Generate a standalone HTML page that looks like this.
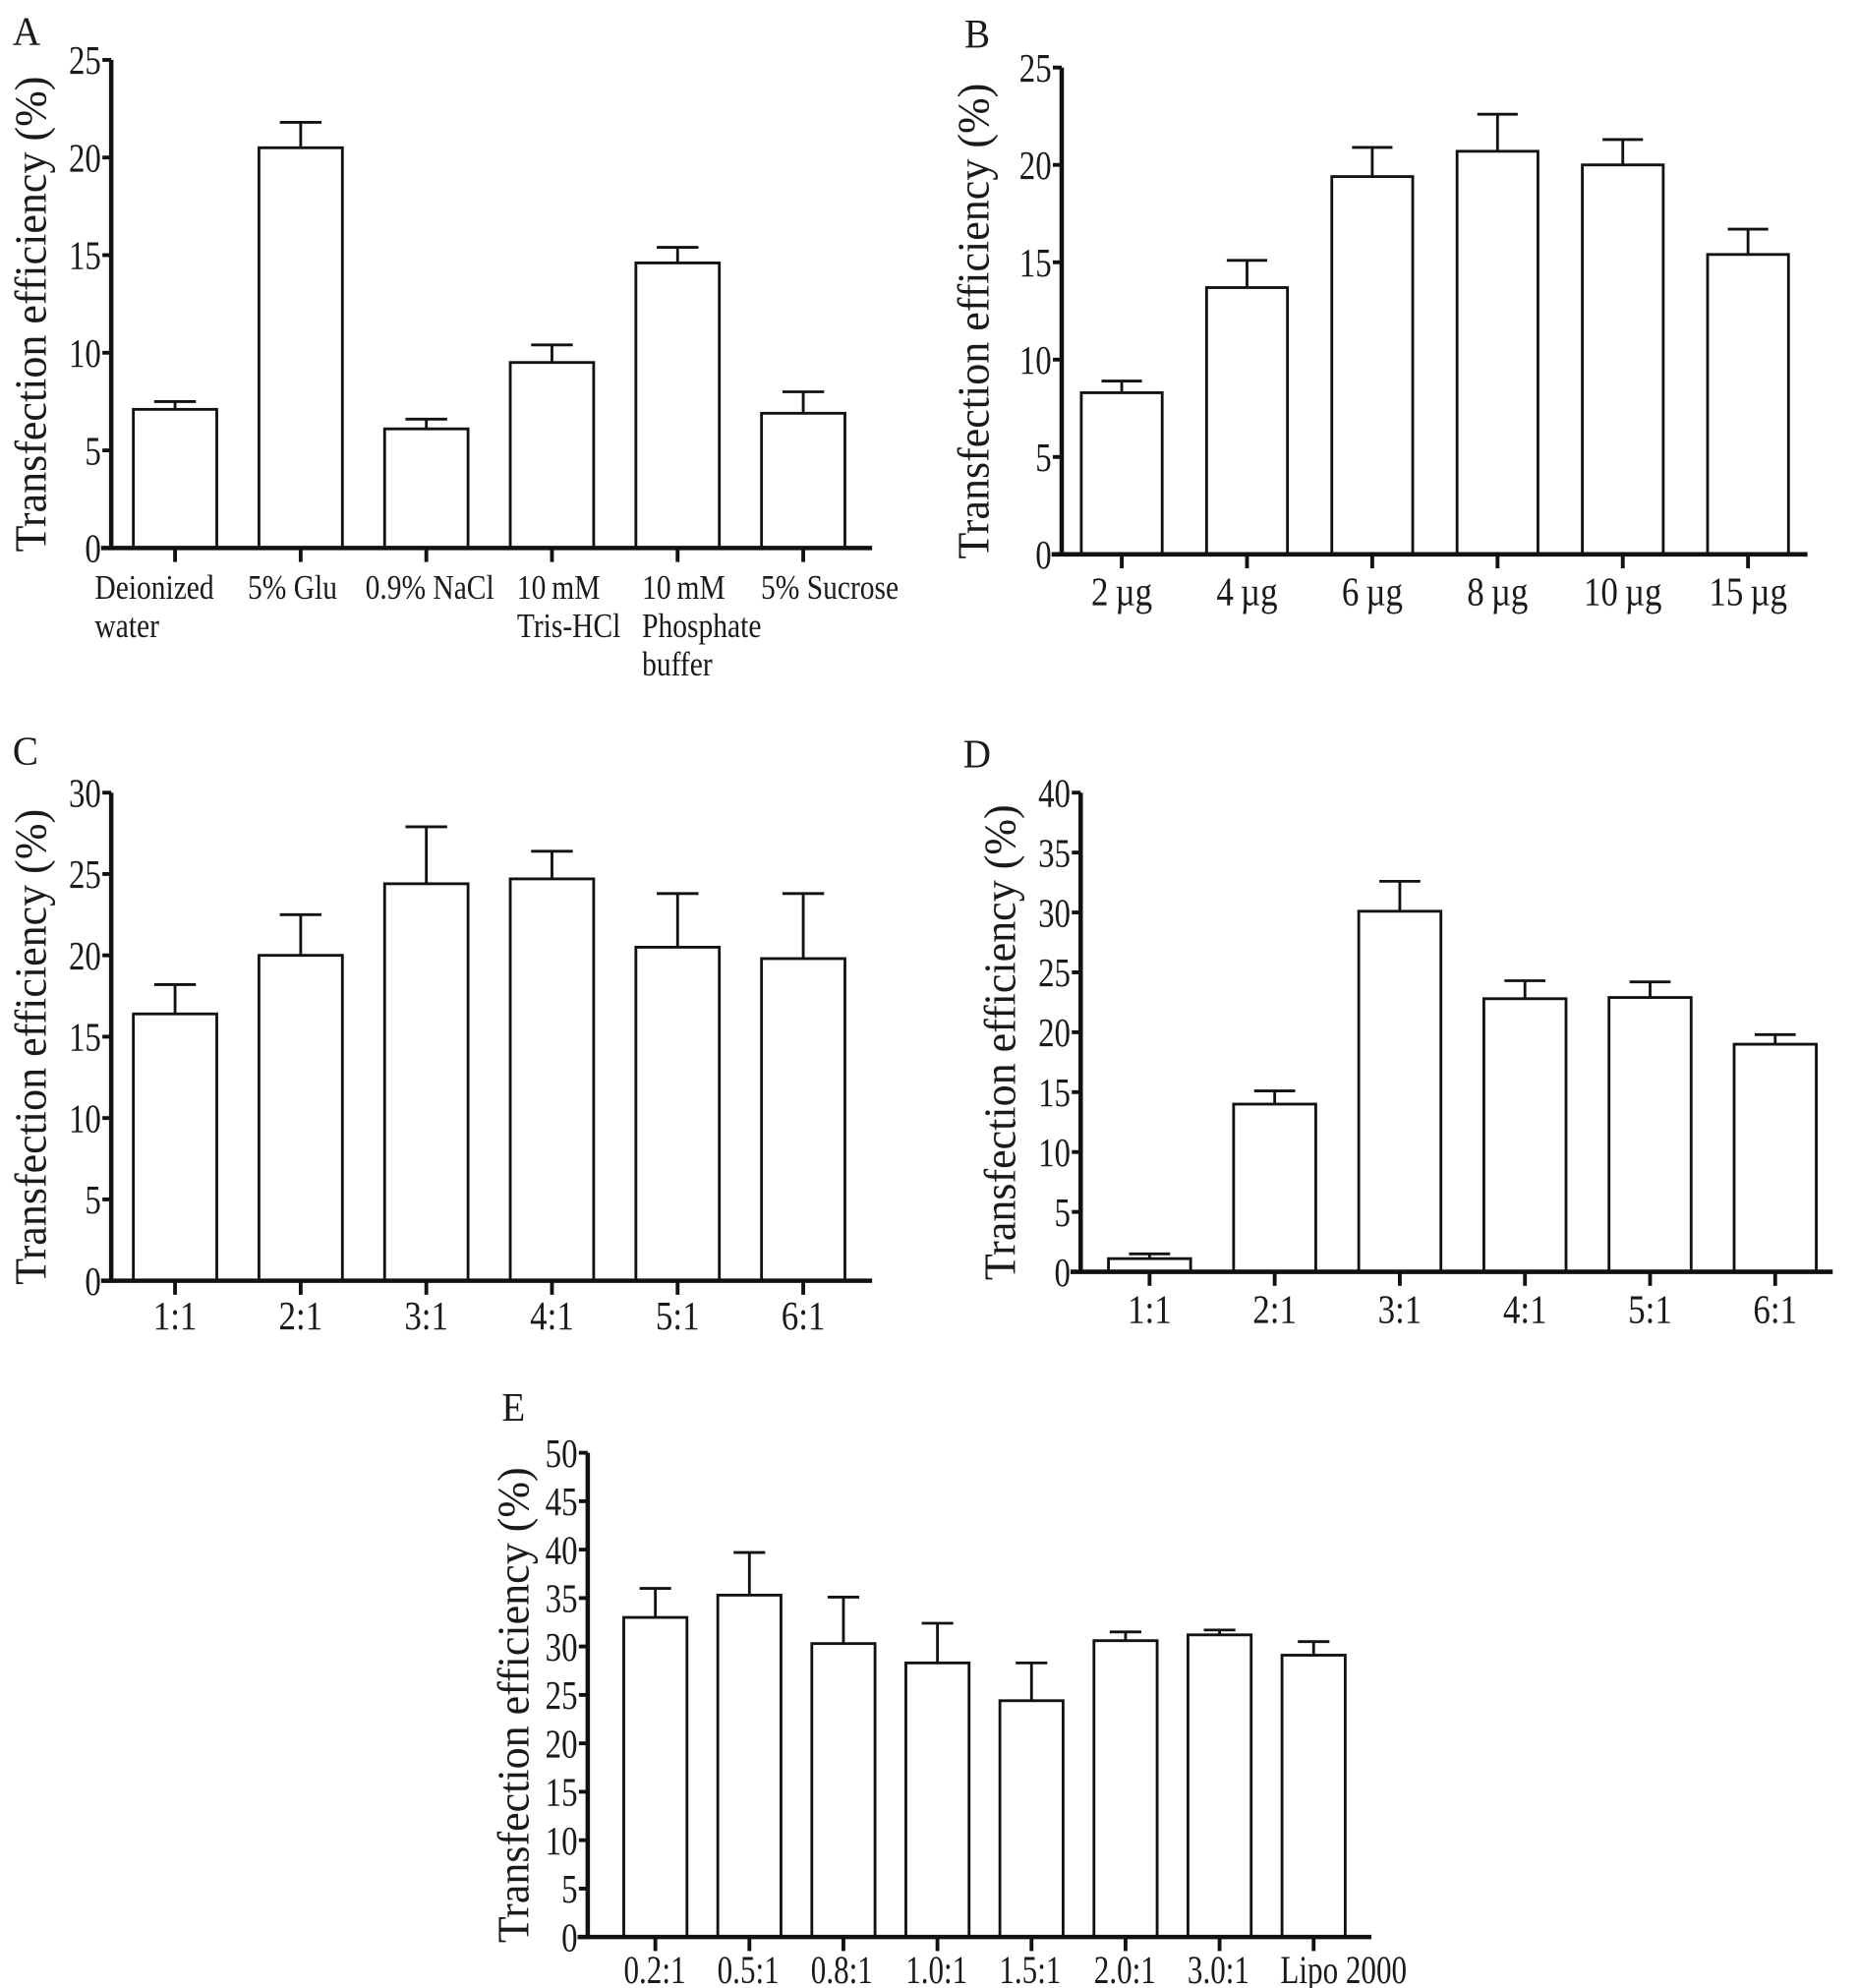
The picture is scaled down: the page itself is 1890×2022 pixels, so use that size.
<!DOCTYPE html>
<html><head><meta charset="utf-8"><style>
html,body{margin:0;padding:0;background:#fff;}
svg{display:block;}
text{font-family:"Liberation Serif",serif;fill:#1a1a1a;}
</style></head><body>
<svg id="fig" width="1890" height="2022" viewBox="0 0 1470 1560" preserveAspectRatio="none" xmlns="http://www.w3.org/2000/svg"></svg>
<script>
// Panel A
const catsA = [["Deionized","water"],["5% Glu"],["0.9% NaCl"],["10\u2009mM","Tris-HCl"],["10\u2009mM","Phosphate","buffer"],["5%  Sucrose"]];
const valsA = [7.1,20.5,6.1,9.5,14.6,6.9];
const errA = [7.5,21.8,6.6,10.4,15.4,8.0];
const ticksA = [0,5,10,15,20,25];
// Panel B
const catsB = [["2\u2009\u00b5g"],["4\u2009\u00b5g"],["6\u2009\u00b5g"],["8\u2009\u00b5g"],["10\u2009\u00b5g"],["15\u2009\u00b5g"]];
const valsB = [8.3,13.7,19.4,20.7,20.0,15.4];
const errB = [8.9,15.1,20.9,22.6,21.3,16.7];
const ticksB = [0,5,10,15,20,25];
// Panel C
const catsC = [["1:1"],["2:1"],["3:1"],["4:1"],["5:1"],["6:1"]];
const valsC = [16.4,20.0,24.4,24.7,20.5,19.8];
const errC = [18.2,22.5,27.9,26.4,23.8,23.8];
const ticksC = [0,5,10,15,20,25,30];
// Panel D
const catsD = [["1:1"],["2:1"],["3:1"],["4:1"],["5:1"],["6:1"]];
const valsD = [1.1,14.0,30.1,22.8,22.9,19.0];
const errD = [1.5,15.1,32.6,24.3,24.2,19.8];
const ticksD = [0,5,10,15,20,25,30,35,40];
// Panel E
const catsE = [["0.2:1"],["0.5:1"],["0.8:1"],["1.0:1"],["1.5:1"],["2.0:1"],["3.0:1"],["Lipo 2000"]];
const valsE = [33.0,35.3,30.3,28.3,24.4,30.6,31.2,29.1];
const errE = [36.0,39.7,35.1,32.4,28.3,31.5,31.7,30.5];
const ticksE = [0,5,10,15,20,25,30,35,40,45,50];

const NS = "http://www.w3.org/2000/svg";
const svg = document.getElementById("fig");
function mk(tag, attrs, parent){
  const e = document.createElementNS(NS, tag);
  for (const k in attrs) e.setAttribute(k, attrs[k]);
  (parent||svg).appendChild(e);
  return e;
}
function txt(parent, x, y, s, size, anchor, sx){
  const t = mk("text", {transform:`translate(${x},${y}) scale(${sx||0.85},1)`, "font-size":size, "text-anchor":anchor||"middle"}, parent);
  t.textContent = s;
  return t;
}
function panel(id, letter, lx, ly, cfg, cats, vals, errs, ticks){
  const g = mk("g", {});
  
  
  const ymax = ticks[ticks.length-1];
  const yS = v => cfg.y0 - (v/ymax)*(cfg.y0-cfg.yTop);
  const xC = i => cfg.firstC + i*cfg.step;
  const lt = txt(g, lx, ly, letter, 32, "start", 0.95);
  
  
  const yt = mk("text", {transform:`translate(${cfg.titleX},${(cfg.y0+cfg.yTop)/2+8}) rotate(-90) scale(0.97,1)`, "font-size":35, "text-anchor":"middle"}, g);
  yt.textContent = "Transfection efficiency (%)";
  
  
  vals.forEach((v,i)=>{
    const cx = xC(i), w = cfg.bw;
    const r = mk("rect", {x:cx-w/2, y:yS(v), width:w, height:yS(0)-yS(v), fill:"#fff", stroke:"#111", "stroke-width":2.2}, g);
    
    
    const eb = mk("path", {d:`M${cx},${yS(v)} V${yS(errs[i])} M${cx-w/4},${yS(errs[i])} H${cx+w/4}`, stroke:"#111", "stroke-width":2.2, fill:"none"}, g);
    
    
    const tk = mk("line", {x1:cx, x2:cx, y1:cfg.y0, y2:cfg.y0+11, stroke:"#111", "stroke-width":3}, g);
    
    
    cats[i].forEach((ln,j)=>{
      const anchor = cfg.leftLabels ? "start" : "middle";
      const lxp = cfg.labX ? cfg.labX[i] : cx;
      const tl = txt(g, lxp, cfg.labY + j*cfg.labLH, ln, cfg.labSize, anchor, cfg.labSX);
      
      
    });
  });
  const ya = mk("line", {x1:cfg.ax, x2:cfg.ax, y1:cfg.yTop, y2:cfg.y0+1.5, stroke:"#111", "stroke-width":3.5}, g);
  
  
  const xa = mk("line", {x1:cfg.ax-8, x2:cfg.axEnd, y1:cfg.y0, y2:cfg.y0, stroke:"#111", "stroke-width":3.5}, g);
  
  
  ticks.forEach(t=>{
    const tl = mk("line", {x1:cfg.ax-7, x2:cfg.ax, y1:yS(t), y2:yS(t), stroke:"#111", "stroke-width":3}, g);
    
    
    const lab = txt(g, cfg.ax-8, yS(t)+11, String(t), 32, "end", 0.8);
    
    
  });
}
panel("a","A",10,35,{ax:88,axEnd:690,y0:430,yTop:47,firstC:138.5,step:99.4,bw:66,titleX:36,labY:470,labLH:30,labSize:27,labSX:0.85,leftLabels:true,labX:[75,196,289,409,508,602]},catsA,valsA,errA,ticksA);
panel("b","B",763,37,{ax:840,axEnd:1430,y0:435,yTop:53,firstC:887.5,step:99.1,bw:64,titleX:782,labY:475,labLH:30,labSize:32,labSX:0.85},catsB,valsB,errB,ticksB);
panel("c","C",10,600,{ax:88,axEnd:690,y0:1005,yTop:622,firstC:138.5,step:99.4,bw:66,titleX:36,labY:1043,labLH:30,labSize:32,labSX:0.85},catsC,valsC,errC,ticksC);
panel("d","D",762,602,{ax:855,axEnd:1450,y0:998,yTop:622,firstC:909.5,step:99,bw:65,titleX:803,labY:1038,labLH:30,labSize:32,labSX:0.85},catsD,valsD,errD,ticksD);
panel("e","E",397,1115,{ax:465,axEnd:1085,y0:1520,yTop:1140,firstC:518.5,step:74.4,bw:50,titleX:418,labY:1556,labLH:30,labSize:31,labSX:0.78,labX:[518,592,666,741,815,890,964,1063]},catsE,valsE,errE,ticksE);
</script>
</body></html>
